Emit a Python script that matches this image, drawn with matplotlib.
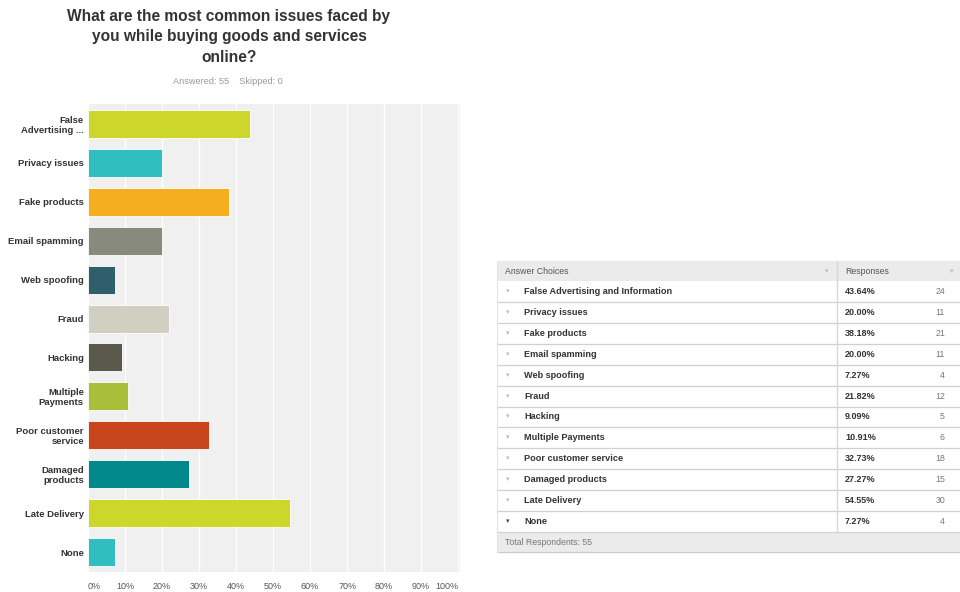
import matplotlib
matplotlib.use("Agg")
import matplotlib.pyplot as plt
from matplotlib.patches import Rectangle

plt.rcParams['font.family'] = ['Liberation Sans', 'DejaVu Sans']

# Survey results
choices = ["False Advertising and Information", "Privacy issues", "Fake products",
           "Email spamming", "Web spoofing", "Fraud", "Hacking", "Multiple Payments",
           "Poor customer service", "Damaged products", "Late Delivery", "None"]
axis_labels = ["False\nAdvertising ...", "Privacy issues", "Fake products",
               "Email spamming", "Web spoofing", "Fraud", "Hacking", "Multiple\nPayments",
               "Poor customer\nservice", "Damaged\nproducts", "Late Delivery", "None"]
percents = [43.64, 20.00, 38.18, 20.00, 7.27, 21.82, 9.09, 10.91, 32.73, 27.27, 54.55, 7.27]
counts = [24, 11, 21, 11, 4, 12, 5, 6, 18, 15, 30, 4]
answered = 55
skipped = 0
total_respondents = 55
x_ticks = [0, 10, 20, 30, 40, 50, 60, 70, 80, 90, 100]
x_tick_labels = [f"{t}%" for t in x_ticks]

bar_colors = ["#cdd62a", "#30bec0", "#f6ae21", "#888a7b", "#2e5f6b", "#d1cfc2",
              "#5b584c", "#a9bf3b", "#c9461c", "#00898a", "#cdd62a", "#30bec0"]

W, H = 960, 592
fig = plt.figure(figsize=(W / 100, H / 100), dpi=100)
fig.patch.set_facecolor("white")

# Bar chart axes (pixel layout: x 88..460, y 104..572)
ax = fig.add_axes([88 / W, 1 - 572 / H, 372 / W, 468 / H])
ax.set_facecolor("#f0f0f0")
y = list(range(len(choices)))
ax.barh(y, percents, height=0.72, color=bar_colors, edgecolor="white",
        linewidth=0.6, zorder=3)
ax.set_xlim(0, 100.5)
ax.set_ylim(11.51, -0.51)
ax.set_xticks(x_ticks)
ax.set_xticklabels(x_tick_labels, fontsize=6.5, color="#555555")
tl = ax.get_xticklabels()
tl[0].set_ha("left")
tl[-1].set_ha("right")
ax.set_yticks(y)
ax.set_yticklabels(axis_labels, fontsize=6.8, fontweight="bold", color="#333333",
                   linespacing=1.15)
ax.tick_params(axis="both", length=0)
ax.tick_params(axis="x", pad=7)
ax.tick_params(axis="y", pad=3)
ax.grid(axis="x", color="white", linewidth=1.0, zorder=0)
ax.set_axisbelow(True)
for s in ax.spines.values():
    s.set_visible(False)

# Title and summary line
fig.text(229 / W, 1 - 37 / H,
         "What are the most common issues faced by\nyou while buying goods and services\nonline?",
         ha="center", va="center", fontsize=11.2, fontweight="bold", color="#333333",
         linespacing=1.42)
fig.text(228 / W, 1 - 81 / H, f"Answered: {answered}    Skipped: {skipped}",
         ha="center", va="center", fontsize=6.6, color="#999999")

# Response table drawn in pixel coordinates
tax = fig.add_axes([0, 0, 1, 1])
tax.set_xlim(0, W)
tax.set_ylim(H, 0)
tax.axis("off")

left, right, divider = 497, 960, 837
row_h = 20.85
header_c = 271.0
half = row_h / 2

tax.add_patch(Rectangle((left, header_c - half), right - left, row_h,
                        facecolor="#ebebeb", edgecolor="none"))
tax.text(505, header_c, "Answer Choices", ha="left", va="center", fontsize=6.3, color="#555555")
tax.text(845, header_c, "Responses", ha="left", va="center", fontsize=6.3, color="#555555")
tax.text(827, header_c + 1, "▾", ha="center", va="center", fontsize=5, color="#bbbbbb")
tax.text(952, header_c + 1, "▾", ha="center", va="center", fontsize=5, color="#bbbbbb")

n = len(choices)
for i, (name, pct, cnt) in enumerate(zip(choices, percents, counts)):
    c = header_c + (i + 1) * row_h
    last = i == n - 1
    tax.text(508, c, "▾", ha="center", va="center", fontsize=5,
             color="#444444" if last else "#bbbbbb")
    tax.text(524, c, name, ha="left", va="center", fontsize=6.6, fontweight="bold",
             color="#333333")
    tax.text(845, c, f"{pct:.2f}%", ha="left", va="center", fontsize=6.5,
             fontweight="bold", color="#333333")
    tax.text(945, c, f"{cnt}", ha="right", va="center", fontsize=6.3, color="#777777")
    tax.plot([left, right], [c + half, c + half], color="#d0d0d0", linewidth=0.9)

footer_c = header_c + (n + 1) * row_h
tax.add_patch(Rectangle((left, footer_c - half), right - left, row_h,
                        facecolor="#ebebeb", edgecolor="none"))
tax.plot([left, right], [footer_c + half, footer_c + half], color="#cccccc", linewidth=0.9)
tax.text(505, footer_c, f"Total Respondents: {total_respondents}", ha="left", va="center",
         fontsize=6.3, color="#777777")
tax.plot([divider, divider], [header_c - half, footer_c - half], color="#d8d8d8",
         linewidth=1.0)
tax.plot([left, left], [header_c - half, footer_c + half], color="#e4e4e4", linewidth=0.8)

fig.savefig("out.png", dpi=100, facecolor="white")
